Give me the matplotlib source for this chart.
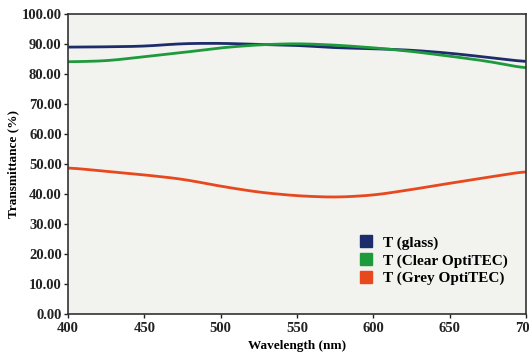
import matplotlib
matplotlib.use("Agg")
import matplotlib.pyplot as plt
from matplotlib.lines import Line2D
import numpy as np

wl = [400, 425, 450, 475, 500, 525, 550, 575, 600, 625, 650, 675, 700]
glass = [89.0, 89.1, 89.3, 90.2, 90.3, 89.9, 89.6, 88.8, 88.5, 88.0, 87.0, 85.6, 84.1]
clear = [84.1, 84.4, 85.8, 87.2, 88.8, 89.8, 90.2, 89.7, 88.8, 87.6, 86.0, 84.3, 81.9]
grey = [48.8, 47.6, 46.4, 45.0, 42.6, 40.6, 39.4, 38.9, 39.6, 41.5, 43.6, 45.6, 47.6]
series_names = ["T (glass)", "T (Clear OptiTEC)", "T (Grey OptiTEC)"]
colors = ["#1d2c6b", "#1e9a3c", "#e8481e"]

plt.rcParams['font.family'] = ['Liberation Serif', 'DejaVu Serif']
fig = plt.figure(figsize=(5.29, 3.54), dpi=100)
fig.patch.set_facecolor("white")
ax = fig.add_axes([0.1285, 0.113, 0.866, 0.847])
ax.set_facecolor("#f2f2ee")

xs = np.linspace(400, 700, 301)
for ys, c in zip([glass, clear, grey], colors):
    ysm = np.interp(xs, wl, ys)
    k = np.ones(21) / 21
    pad = np.pad(ysm, 10, mode='edge')
    ysm = np.convolve(pad, k, mode='valid')
    ax.plot(xs, ysm, color=c, lw=2.0)

ax.set_xlim(400, 700)
ax.set_ylim(0, 100)
ax.set_xticks([400, 450, 500, 550, 600, 650, 700])
ax.set_yticks(np.arange(0, 101, 10))
ax.set_yticklabels([f"{v:.2f}" for v in np.arange(0, 101, 10)])
ax.tick_params(labelsize=10.5, colors="#222222", length=3, width=1)
ax.tick_params(axis='y', pad=1.5)
ax.tick_params(axis='x', pad=2.5)
for lab in ax.get_xticklabels() + ax.get_yticklabels():
    lab.set_fontweight("bold")
ax.set_xlabel("Wavelength (nm)", fontsize=9.5, fontweight="bold", labelpad=4)
ax.set_ylabel("Transmittance (%)", fontsize=9.5, fontweight="bold", labelpad=2)
for s in ax.spines.values():
    s.set_color("#333333")
    s.set_linewidth(1.2)

handles = [Line2D([], [], marker='s', color=c, linestyle='none', markersize=9) for c in colors]
leg = ax.legend(handles, series_names, loc="lower right", bbox_to_anchor=(0.99, 0.05),
                frameon=False, handletextpad=0.1, labelspacing=0.25,
                prop={'weight': 'bold', 'size': 11})

fig.savefig("out.png", dpi=100)
